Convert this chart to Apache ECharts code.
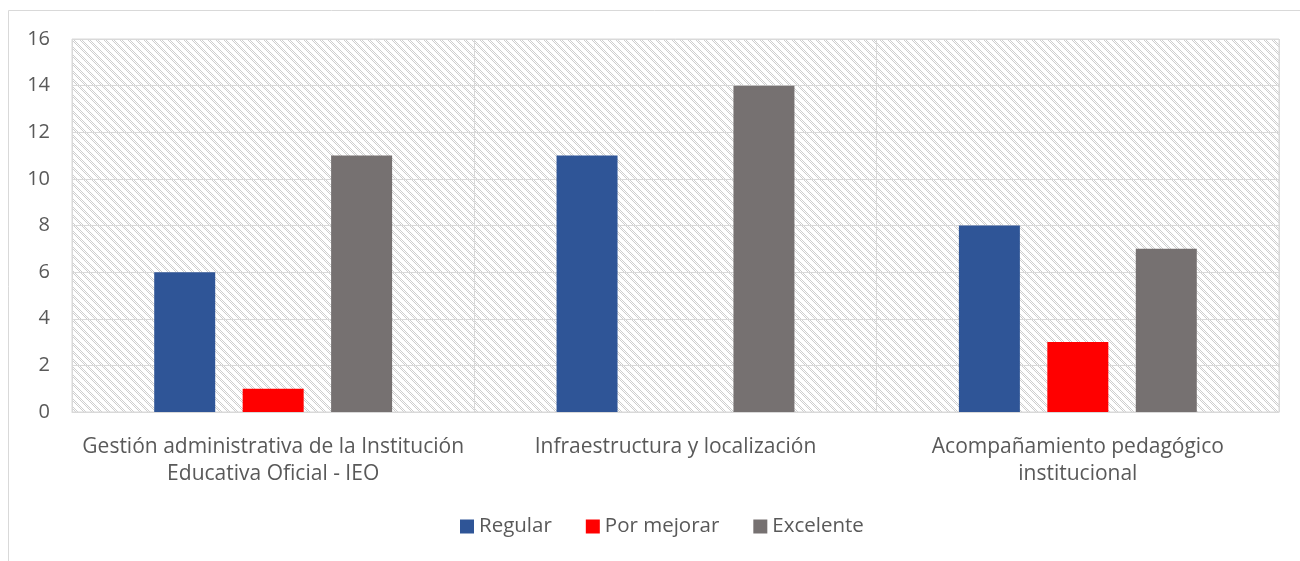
<!DOCTYPE html>
<html><head><meta charset="utf-8">
<script src="https://cdn.jsdelivr.net/npm/echarts@6/dist/echarts.min.js"></script>
<style>html,body{margin:0;padding:0;background:#fff}#c{width:1300px;height:561px}</style>
</head><body><div id="c"></div>
<script>
const categories = ["Gestión administrativa de la Institución\nEducativa Oficial - IEO", "Infraestructura y localización", "Acompañamiento pedagógico\ninstitucional"];
const seriesNames = ["Regular", "Por mejorar", "Excelente"];
const regular = [6, 11, 8];
const porMejorar = [1, null, 3];
const excelente = [11, 14, 7];
const yTicks = {min: 0, max: 16, interval: 2};

const tile = document.createElement('canvas');
tile.width = 8; tile.height = 8;
const tctx = tile.getContext('2d');
tctx.fillStyle = '#ffffff'; tctx.fillRect(0,0,8,8);
tctx.fillStyle = '#cecece';
for (let y=0;y<8;y++) for (let x=0;x<8;x++) {
  const d = ((x - y) % 8 + 8) % 8;
  if (d < 3 && (x + y) % 2 === 0) tctx.fillRect(x,y,1,1);
}

const font = 'Open Sans';
const chart = echarts.init(document.getElementById('c'), null, {renderer:'canvas'});
const colors = ['#2F5597', '#FF0000', '#767171'];
const data = [regular, porMejorar, excelente];
chart.setOption({
  animation: false,
  textStyle: {fontFamily: font},
  graphic: [{type:'rect', shape:{x:8.5,y:10.5,width:1320,height:600}, style:{fill:'none', stroke:'#d9d9d9', lineWidth:1}, silent:true, z:-10}],
  grid: {left:72, right:21, top:39, bottom:149, show:true, backgroundColor:{image:tile, repeat:'repeat'}, borderColor:'#d9d9d9', borderWidth:1},
  legend: {data: seriesNames, bottom: 19, left: 455, itemWidth:14, itemHeight:14, itemGap:34, icon:'rect',
    textStyle:{fontFamily:font, fontSize:20.5, color:'#595959', padding:[0,0,0,0]}},
  xAxis: {type:'category', data: categories,
    axisLine:{lineStyle:{color:'#d9d9d9'}}, axisTick:{show:false},
    splitLine:{show:true, lineStyle:{color:'#d9d9d9', width:1}},
    axisLabel:{fontFamily:font, fontSize:21, color:'#595959', margin:22, lineHeight:27, interval:0}},
  yAxis: {type:'value', min:yTicks.min, max:yTicks.max, interval:yTicks.interval,
    axisLine:{show:false}, axisTick:{show:false},
    splitLine:{lineStyle:{color:'#d9d9d9', width:1}},
    axisLabel:{fontFamily:font, fontSize:20, color:'#595959', margin:22}},
  series: seriesNames.map((n,i)=>({name:n, type:'bar', data:data[i], barWidth:61, barGap:'45%', itemStyle:{color:colors[i]}}))
});
</script></body></html>
